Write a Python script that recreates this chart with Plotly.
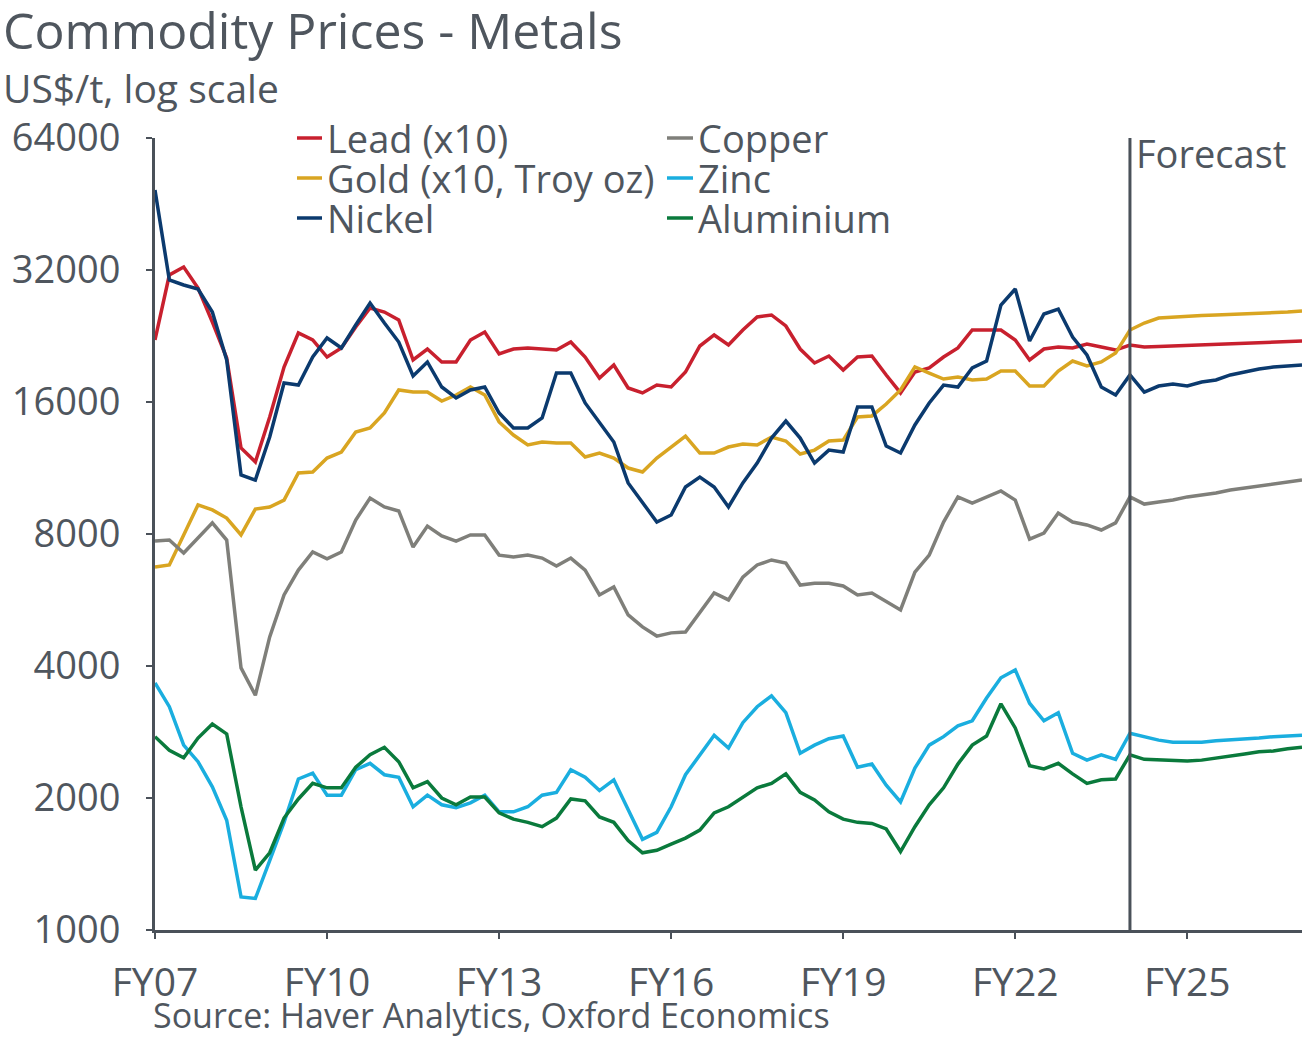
import plotly.graph_objects as go

# Quarterly observations, FY07 Q1 .. FY27 (81 points); forecast starts FY24
fiscal_year = [7 + q / 4 for q in range(81)]
forecast_start = 24
x_tick_vals = [7, 10, 13, 16, 19, 22, 25]
x_tick_text = ["FY07", "FY10", "FY13", "FY16", "FY19", "FY22", "FY25"]
y_tick_vals = [1000, 2000, 4000, 8000, 16000, 32000, 64000]
y_tick_text = ["1000", "2000", "4000", "8000", "16000", "32000", "64000"]

lead_x10 = [22160, 31170, 32510, 29110, 24350, 20160, 12570, 11680, 14790, 19230,
            22990, 22160, 20260, 21250, 23720, 26210, 25660, 24610, 19950, 21130,
            19740, 19740, 22160, 23110, 20590, 21130, 21250, 21130, 21020, 21920,
            20260, 18150, 19430, 17220, 16780, 17490, 17310, 18730, 21470, 22750,
            21580, 23350, 25000, 25270, 23850, 21130, 19640, 20370, 18930, 20260,
            20370, 18440, 16780, 18730, 19130, 20260, 21250, 23350, 23350, 23350,
            22160, 19950, 21130, 21360, 21250, 21700, 21360, 21020, 21580, 21360,
            21400, 21460, 21520, 21580, 21640, 21700, 21760, 21820, 21890, 21960,
            22040]

gold_x10 = [6730, 6800, 7960, 9320, 9080, 8700, 7960, 9120, 9220, 9560,
            11020, 11080, 11920, 12300, 13670, 13960, 15100, 17040, 16860, 16860,
            16080, 16600, 17310, 16600, 14410, 13450, 12770, 12970, 12900, 12900,
            11990, 12240, 11920, 11310, 11080, 11920, 12630, 13380, 12240, 12240,
            12630, 12830, 12770, 13310, 13040, 12180, 12430, 13040, 13100, 14790,
            14870, 15830, 17040, 19230, 18630, 18050, 18240, 17960, 18050, 18830,
            18830, 17400, 17400, 18830, 19840, 19330, 19740, 20690, 23350, 24220,
            24870, 25000, 25130, 25200, 25270, 25330, 25400, 25530, 25600, 25660,
            25800]

nickel = [48700, 30360, 29580, 28960, 25660, 19950, 10910, 10620, 13310, 17680,
          17490, 20260, 22390, 21250, 23970, 26910, 24220, 21920, 18340, 19740,
          17310, 16340, 17040, 17310, 15100, 13960, 13960, 14710, 18630, 18630,
          15920, 14330, 12970, 10460, 9460, 8520, 8840, 10240, 10790, 10240,
          9220, 10460, 11610, 13240, 14480, 13240, 11610, 12430, 12300, 15590,
          15590, 12700, 12240, 14180, 15920, 17490, 17310, 19130, 19840, 26630,
          28960, 22040, 25400, 26070, 22510, 20480, 17310, 16600, 18440, 16860,
          17400, 17590, 17400, 17770, 17960, 18440, 18730, 19030, 19230, 19330,
          19430]

copper = [7710, 7750, 7240, 7830, 8480, 7750, 3960, 3430, 4660, 5810,
          6620, 7280, 7020, 7280, 8610, 9660, 9220, 9030, 7470, 8340,
          7920, 7710, 7960, 7960, 7160, 7090, 7160, 7050, 6760, 7050,
          6620, 5810, 6060, 5230, 4910, 4680, 4760, 4780, 5280, 5870,
          5660, 6380, 6800, 6980, 6870, 6120, 6180, 6180, 6090, 5810,
          5870, 5600, 5370, 6550, 7160, 8520, 9720, 9410, 9720, 10030,
          9560, 7790, 8040, 8930, 8520, 8390, 8170, 8480, 9720, 9360,
          9460, 9560, 9720, 9820, 9920, 10080, 10190, 10290, 10400, 10510,
          10620]

zinc = [3660, 3230, 2640, 2420, 2120, 1780, 1190, 1180, 1440, 1760,
        2210, 2280, 2030, 2030, 2320, 2400, 2260, 2230, 1910, 2030,
        1930, 1900, 1950, 2030, 1860, 1860, 1910, 2030, 2060, 2320,
        2230, 2080, 2200, 1880, 1610, 1670, 1910, 2260, 2510, 2780,
        2600, 2970, 3230, 3420, 3130, 2530, 2640, 2730, 2770, 2350,
        2390, 2140, 1960, 2340, 2640, 2760, 2920, 3000, 3380, 3760,
        3920, 3290, 3000, 3130, 2530, 2440, 2510, 2450, 2810, 2760,
        2710, 2680, 2680, 2680, 2700, 2710, 2730, 2740, 2760, 2770,
        2780]

aluminium = [2760, 2570, 2470, 2740, 2950, 2800, 1910, 1370, 1500, 1800,
             1990, 2160, 2110, 2110, 2350, 2510, 2610, 2420, 2110, 2180,
             2000, 1930, 2010, 2010, 1850, 1790, 1760, 1720, 1800, 1990,
             1970, 1810, 1760, 1600, 1500, 1520, 1570, 1620, 1690, 1850,
             1910, 2010, 2110, 2160, 2270, 2060, 1980, 1860, 1790, 1760,
             1750, 1700, 1510, 1720, 1930, 2110, 2390, 2640, 2770, 3280,
             2890, 2370, 2330, 2400, 2270, 2160, 2200, 2210, 2510, 2450,
             2440, 2440, 2430, 2440, 2470, 2490, 2520, 2550, 2560, 2590,
             2610]

series_names = ["Lead (x10)", "Gold (x10, Troy oz)", "Nickel", "Copper", "Zinc", "Aluminium"]
series_values = [lead_x10, gold_x10, nickel, copper, zinc, aluminium]
series_colors = ["#C8202E", "#D9A521", "#0B3A6E", "#7F7F7A", "#1AAEDF", "#0A7A3C"]

TEXT = "#4F565E"
AXIS = "#4A5159"
FONT = "Open Sans"

fig = go.Figure()
for name, vals, col in zip(series_names, series_values, series_colors):
    fig.add_trace(go.Scatter(x=fiscal_year, y=vals, name=name, mode="lines",
                             line=dict(color=col, width=3.5), showlegend=False))

# plot area in pixels
L, R, T, B = 155, 1302, 138, 930
W, H = 1304, 1038


def px(xp):
    return (xp - L) / (R - L)


def py(yp):
    return (B - yp) / (B - T)


shapes = [dict(type="line", xref="x", yref="paper", x0=forecast_start, x1=forecast_start,
               y0=0, y1=1, line=dict(color=AXIS, width=3))]
annotations = []

# manual legend: two columns
legend_cols = [(297, 322, 325), (667, 693, 696)]
legend_rows = [138, 178, 218]
order = [[0, 1, 2], [3, 4, 5]]
for c, (lx0, lx1, tx) in enumerate(legend_cols):
    for r, idx in enumerate(order[c]):
        yy = legend_rows[r]
        shapes.append(dict(type="line", xref="paper", yref="paper",
                           x0=px(lx0), x1=px(lx1), y0=py(yy), y1=py(yy),
                           line=dict(color=series_colors[idx], width=3.5)))
        annotations.append(dict(xref="paper", yref="paper", x=px(tx), y=py(yy),
                                text=series_names[idx], showarrow=False,
                                xanchor="left", yanchor="middle",
                                font=dict(family=FONT, size=38, color=TEXT)))

annotations.append(dict(xref="paper", yref="paper", x=px(1134), y=py(153),
                        text="Forecast", showarrow=False, xanchor="left", yanchor="middle",
                        font=dict(family=FONT, size=38, color=TEXT)))
annotations.append(dict(xref="paper", yref="paper", x=px(1), y=py(30),
                        text="Commodity Prices - Metals", showarrow=False,
                        xanchor="left", yanchor="middle",
                        font=dict(family=FONT, size=50, color=TEXT)))
annotations.append(dict(xref="paper", yref="paper", x=px(1), y=py(88),
                        text="US$/t, log scale", showarrow=False,
                        xanchor="left", yanchor="middle",
                        font=dict(family=FONT, size=39, color=TEXT)))
annotations.append(dict(xref="paper", yref="paper", x=px(151), y=py(1015),
                        text="Source: Haver Analytics, Oxford Economics", showarrow=False,
                        xanchor="left", yanchor="middle",
                        font=dict(family=FONT, size=34, color=TEXT)))

fig.update_layout(
    width=W, height=H,
    margin=dict(l=L, r=W - R, t=T, b=H - B, pad=0),
    paper_bgcolor="white", plot_bgcolor="white",
    shapes=shapes, annotations=annotations,
    showlegend=False,
    font=dict(family=FONT, color=TEXT),
)
fig.update_xaxes(range=[7, 27], tickvals=x_tick_vals, ticktext=x_tick_text,
                 showgrid=False, zeroline=False, showline=True, linecolor=AXIS, linewidth=3,
                 ticks="outside", ticklen=6, tickwidth=2, tickcolor=AXIS,
                 ticklabelstandoff=10,
                 tickfont=dict(family=FONT, size=39, color=TEXT))
fig.update_yaxes(type="log", range=[3, 4.80618], tickvals=y_tick_vals, ticktext=y_tick_text,
                 showgrid=False, zeroline=False, showline=True, linecolor=AXIS, linewidth=3,
                 ticks="outside", ticklen=6, tickwidth=2, tickcolor=AXIS,
                 ticklabelstandoff=18,
                 tickfont=dict(family=FONT, size=38, color=TEXT))

fig.write_html("out.html", config={"displayModeBar": False},
               post_script="document.body.style.margin='0';")
